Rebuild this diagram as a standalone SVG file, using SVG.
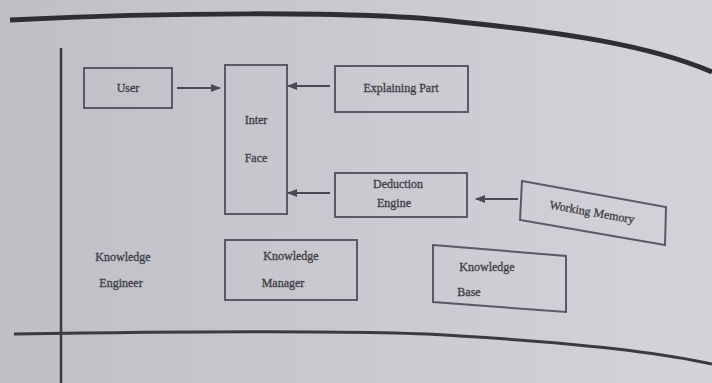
<svg xmlns="http://www.w3.org/2000/svg" width="712" height="383" viewBox="0 0 712 383">
<defs>
<linearGradient id="bg" x1="0" y1="0" x2="1" y2="0">
<stop offset="0" stop-color="#bfbfc5"/>
<stop offset="0.6" stop-color="#cbcbd1"/>
<stop offset="1" stop-color="#d3d3d9"/>
</linearGradient>
<marker id="ah" viewBox="0 0 10 10" refX="9" refY="5" markerWidth="5" markerHeight="5" orient="auto">
<path d="M0,1 L10,5 L0,9 z" fill="#4a4a52"/>
</marker>
<style>
.box{fill:none;stroke:#5a5a62;stroke-width:2}
.t{font-family:"Liberation Serif",serif;font-size:12px;fill:#3e3e46;text-anchor:middle;stroke:#3e3e46;stroke-width:0.3}
.c{stroke:#4a4a52;stroke-width:2;fill:none;marker-end:url(#ah)}
</style>
</defs>
<rect width="712" height="383" fill="url(#bg)"/>
<path d="M10,20 C150,13 360,10 460,22 C560,32 650,45 712,72" fill="none" stroke="#2e2e34" stroke-width="5"/>
<path d="M14,334 C150,332 380,330 460,336 C560,342 650,350 712,364" fill="none" stroke="#3a3a40" stroke-width="3"/>
<line x1="61" y1="48" x2="61" y2="383" stroke="#3a3a40" stroke-width="2.5"/>
<g id="user"><rect class="box" x="84" y="68" width="88" height="40"/><text class="t" x="128" y="92">User</text></g>
<g id="interface"><rect class="box" x="225" y="65" width="62" height="149"/><text class="t" x="256" y="124">Inter</text><text class="t" x="256" y="162">Face</text></g>
<g id="explaining"><rect class="box" x="335" y="66" width="133" height="46"/><text class="t" x="401" y="92">Explaining Part</text></g>
<g id="deduction"><rect class="box" x="335" y="173" width="132" height="44"/><text class="t" x="398" y="188">Deduction</text><text class="t" x="394" y="207">Engine</text></g>
<g id="working"><path class="box" d="M522,181 L666,207 L665,245 L520,220 Z"/><text class="t" x="592" y="216" transform="rotate(10 592 212)">Working Memory</text></g>
<g id="kengineer"><text class="t" x="123" y="261">Knowledge</text><text class="t" x="121" y="287">Engineer</text></g>
<g id="kmanager"><rect class="box" x="225" y="240" width="132" height="60"/><text class="t" x="291" y="260">Knowledge</text><text class="t" x="283" y="287">Manager</text></g>
<g id="kbase"><path class="box" d="M433,245 L566,256 L566,312 L433,302 Z"/><text class="t" x="487" y="271">Knowledge</text><text class="t" x="469" y="296">Base</text></g>
<g id="connectors">
<line class="c" x1="177" y1="88" x2="220" y2="88"/>
<line class="c" x1="330" y1="86" x2="288" y2="86"/>
<line class="c" x1="330" y1="193" x2="288" y2="193"/>
<line class="c" x1="518" y1="199" x2="476" y2="199"/>
</g>
</svg>
